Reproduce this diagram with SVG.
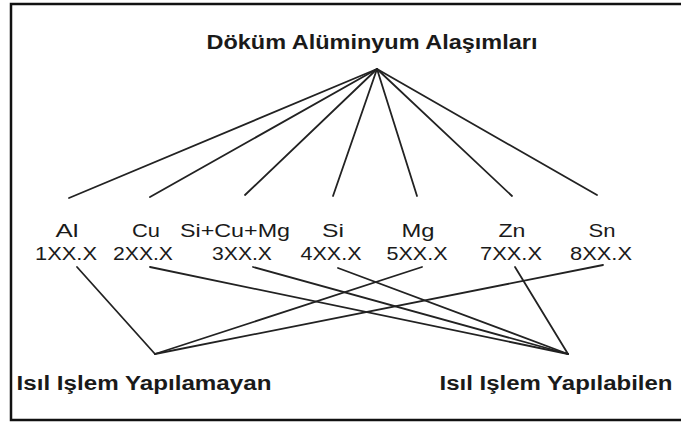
<svg xmlns="http://www.w3.org/2000/svg" width="681" height="423" viewBox="0 0 681 423">
<style>
.t{font-family:"Liberation Sans",Arial,sans-serif;fill:#1a1a1a;text-anchor:middle}
.n{font-size:19px}
.b{font-size:20px;font-weight:bold}
.c line{stroke:#222;stroke-width:1.8;stroke-linecap:round}
</style>
<rect width="681" height="423" fill="#fff"/>
<path d="M700 4 H11 V420 H700" fill="none" stroke="#111" stroke-width="2.5"/>
<g id="root"><text class="t b" x="372" y="49" textLength="331" lengthAdjust="spacingAndGlyphs">Döküm Alüminyum Alaşımları</text></g>
<g id="al"><text class="t n" x="67" y="237" textLength="23" lengthAdjust="spacingAndGlyphs">Al</text><text class="t n" x="66" y="260" textLength="62" lengthAdjust="spacingAndGlyphs">1XX.X</text></g>
<g id="cu"><text class="t n" x="146" y="237" textLength="28" lengthAdjust="spacingAndGlyphs">Cu</text><text class="t n" x="143" y="260" textLength="60" lengthAdjust="spacingAndGlyphs">2XX.X</text></g>
<g id="sicumg"><text class="t n" x="235" y="237" textLength="110" lengthAdjust="spacingAndGlyphs">Si+Cu+Mg</text><text class="t n" x="242" y="260" textLength="60" lengthAdjust="spacingAndGlyphs">3XX.X</text></g>
<g id="si"><text class="t n" x="333" y="237" textLength="22" lengthAdjust="spacingAndGlyphs">Si</text><text class="t n" x="331" y="260" textLength="61" lengthAdjust="spacingAndGlyphs">4XX.X</text></g>
<g id="mg"><text class="t n" x="418" y="237" textLength="33" lengthAdjust="spacingAndGlyphs">Mg</text><text class="t n" x="417" y="260" textLength="61" lengthAdjust="spacingAndGlyphs">5XX.X</text></g>
<g id="zn"><text class="t n" x="512" y="237" textLength="27" lengthAdjust="spacingAndGlyphs">Zn</text><text class="t n" x="511" y="260" textLength="62" lengthAdjust="spacingAndGlyphs">7XX.X</text></g>
<g id="sn"><text class="t n" x="602" y="237" textLength="27" lengthAdjust="spacingAndGlyphs">Sn</text><text class="t n" x="601" y="260" textLength="62" lengthAdjust="spacingAndGlyphs">8XX.X</text></g>
<g id="non-heat"><text class="t b" x="144" y="390" textLength="255" lengthAdjust="spacingAndGlyphs">Isıl Işlem Yapılamayan</text></g>
<g id="heat"><text class="t b" x="556" y="390" textLength="233" lengthAdjust="spacingAndGlyphs">Isıl Işlem Yapılabilen</text></g>
<g id="connectors" class="c">
<line x1="377" y1="69" x2="69" y2="198"/>
<line x1="377" y1="69" x2="150" y2="197"/>
<line x1="377" y1="69" x2="245" y2="195"/>
<line x1="377" y1="69" x2="333" y2="196"/>
<line x1="377" y1="69" x2="417" y2="196"/>
<line x1="377" y1="69" x2="512" y2="196"/>
<line x1="377" y1="69" x2="597" y2="195"/>
<line x1="77" y1="267" x2="155" y2="354"/>
<line x1="422" y1="267" x2="155" y2="354"/>
<line x1="603" y1="265" x2="155" y2="354"/>
<line x1="150" y1="267" x2="568" y2="354"/>
<line x1="253" y1="267" x2="568" y2="354"/>
<line x1="338" y1="268" x2="568" y2="354"/>
<line x1="515" y1="267" x2="568" y2="354"/>
</g>
</svg>
